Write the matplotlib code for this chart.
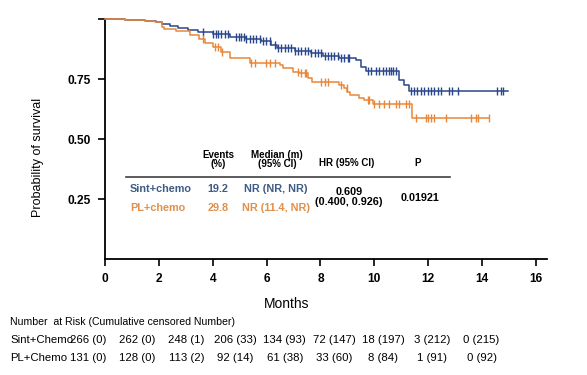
import numpy as np
import matplotlib
matplotlib.use("Agg")
import matplotlib.pyplot as plt

plt.rcParams['font.family'] = ['Liberation Sans', 'DejaVu Sans']

# ---- data ----
sint_times = [0, 0.74, 1.48, 1.9, 2.1, 2.4, 2.7, 3.07, 3.45, 4.0, 4.63, 5.25, 5.8, 6.17, 6.4,
              7.04, 7.65, 8.1, 8.7, 9.32, 9.5, 9.69, 10.93, 11.1, 11.3, 14.95]
sint_surv = [1.0, 0.996, 0.993, 0.989, 0.979, 0.971, 0.962, 0.954, 0.947, 0.936, 0.924, 0.915,
             0.908, 0.890, 0.880, 0.868, 0.857, 0.845, 0.837, 0.829, 0.80, 0.783, 0.746, 0.725,
             0.700, 0.700]
sint_cens = [3.64, 4.01, 4.11, 4.2, 4.32, 4.44, 4.57, 4.88, 4.97, 5.06, 5.15, 5.25, 5.37, 5.49,
             5.62, 5.74, 5.86, 5.99, 6.11, 6.30, 6.42, 6.54, 6.67, 6.79, 6.91, 7.04, 7.16, 7.28,
             7.41, 7.53, 7.65, 7.78, 7.90, 8.02, 8.15, 8.27, 8.40, 8.52, 8.64, 8.77, 8.89, 9.01,
             9.07, 9.75, 9.88, 10.06, 10.19, 10.31, 10.43, 10.56, 10.62, 10.68, 10.80,
             11.36, 11.48, 11.6, 11.73, 11.85, 11.98, 12.1, 12.22, 12.35, 12.47, 12.78, 12.9,
             13.12, 14.57, 14.69, 14.78]

pl_times = [0, 0.74, 1.48, 1.85, 2.1, 2.2, 2.65, 3.15, 3.5, 3.7, 4.0, 4.3, 4.63, 5.37, 6.48,
            6.6, 6.98, 7.2, 7.53, 7.7, 8.7, 8.89, 9.0, 9.08, 9.44, 9.63, 9.94, 11.38, 14.26]
pl_surv = [1.0, 0.996, 0.993, 0.986, 0.968, 0.957, 0.950, 0.933, 0.917, 0.900, 0.885, 0.864,
           0.836, 0.818, 0.808, 0.795, 0.780, 0.774, 0.753, 0.739, 0.725, 0.711, 0.697, 0.683,
           0.670, 0.662, 0.645, 0.588, 0.588]
pl_cens = [3.63, 4.1, 4.2, 4.35, 5.43, 5.56, 5.99, 6.11, 6.30, 7.16, 7.28, 7.41, 7.47, 8.02,
           8.15, 8.27, 8.77, 8.97, 9.75, 9.81, 10.0, 10.19, 10.37, 10.56, 10.8, 10.93, 11.17,
           11.3, 11.54, 11.91, 12.01, 12.1, 12.22, 12.65, 13.58, 13.77, 13.86, 14.26]

groups = ['Sint+chemo', 'PL+chemo']
events = ['19.2', '29.8']
medians = ['NR (NR, NR)', 'NR (11.4, NR)']
hr_text = '0.609\n(0.400, 0.926)'
p_text = '0.01921'

risk_groups = ['Sint+Chemo', 'PL+Chemo']
risk_sint = ['266 (0)', '262 (0)', '248 (1)', '206 (33)', '134 (93)', '72 (147)', '18 (197)',
             '3 (212)', '0 (215)']
risk_pl = ['131 (0)', '128 (0)', '113 (2)', '92 (14)', '61 (38)', '33 (60)', '8 (84)',
           '1 (91)', '0 (92)']

xticks = [0, 2, 4, 6, 8, 10, 12, 14, 16]
yticks = [0.25, 0.50, 0.75, 1.0]
ytick_labels = ['0.25', '0.50', '0.75', '']

# ---- style ----
BLUE = '#2a478c'
ORANGE = '#e8873a'
BLUE_T = '#3e5c86'
ORANGE_T = '#e0904c'

W, H = 587, 375
fig = plt.figure(figsize=(W / 100, H / 100), dpi=100)


def P(x, y):
    return (x / W, 1 - y / H)


ax = fig.add_axes([105 / W, 1 - 259 / H, (547 - 105) / W, 240 / H])
ax.set_xlim(0, 16.41)
ax.set_ylim(0, 1.0)


def level(times, surv, t):
    i = np.searchsorted(times, t, side='right') - 1
    return surv[max(i, 0)]


for times, surv, cens, col in [(sint_times, sint_surv, sint_cens, BLUE),
                               (pl_times, pl_surv, pl_cens, ORANGE)]:
    ax.step(times, surv, where='post', color=col, lw=1.1, clip_on=False, zorder=3)
    cy = [level(times, surv, c) for c in cens]
    ax.plot(cens, cy, ls='none', marker='|', ms=6, mew=1.0, color=col, clip_on=False, zorder=3)

for s in ['top', 'right']:
    ax.spines[s].set_visible(False)
for s in ['left', 'bottom']:
    ax.spines[s].set_linewidth(1.3)
ax.set_xticks(xticks)
ax.set_xticklabels([str(t) for t in xticks], fontsize=8.6, fontweight='bold')
ax.set_yticks(yticks)
ax.set_yticklabels(ytick_labels, fontsize=8.6, fontweight='bold')
ax.tick_params(direction='out', length=5, width=1.2, pad=5)

fig.text(*P(38, 157), 'Probability of survival', rotation=90, ha='center', va='center',
         fontsize=9)
fig.text(*P(287, 304), 'Months', ha='center', va='center', fontsize=10)

# ---- inset table ----
fig.add_artist(plt.Line2D([126 / W, 450 / W], [1 - 176.7 / H, 1 - 176.7 / H],
                          color='#404040', lw=1.2))
hfs = 7
fig.text(*P(218, 159.5), 'Events\n(%)', ha='center', va='center', fontsize=hfs,
         fontweight='bold', linespacing=0.8)
fig.text(*P(277, 159.5), 'Median (m)\n(95% CI)', ha='center', va='center', fontsize=hfs,
         fontweight='bold', linespacing=0.8)
fig.text(*P(347, 163), 'HR (95% CI)', ha='center', va='center', fontsize=hfs,
         fontweight='bold')
fig.text(*P(418, 163), 'P', ha='center', va='center', fontsize=hfs, fontweight='bold')

tfs = 7.8
row_y = [189, 208]
cols = [BLUE_T, ORANGE_T]
for g, e, m, yy, c in zip(groups, events, medians, row_y, cols):
    fig.text(*P(130, yy), g, ha='left', va='center', fontsize=tfs, fontweight='bold', color=c)
    fig.text(*P(218, yy), e, ha='center', va='center', fontsize=tfs, fontweight='bold', color=c)
    fig.text(*P(276, yy), m, ha='center', va='center', fontsize=tfs, fontweight='bold', color=c)
fig.text(*P(349, 197.5), hr_text, ha='center', va='center', fontsize=tfs, fontweight='bold',
         linespacing=1.0)
fig.text(*P(420, 198), p_text, ha='center', va='center', fontsize=tfs, fontweight='bold')

# ---- number at risk ----
fig.text(*P(10, 322), 'Number  at Risk (Cumulative censored Number)', ha='left', va='center',
         fontsize=7.6)
for lab, vals, yy in [(risk_groups[0], risk_sint, 340), (risk_groups[1], risk_pl, 358)]:
    fig.text(*P(10, yy), lab, ha='left', va='center', fontsize=8.2)
    for i, v in enumerate(vals):
        fig.text(*P(88 + 49.2 * i, yy), v, ha='center', va='center', fontsize=8.2)

fig.savefig('out.png', dpi=100)
